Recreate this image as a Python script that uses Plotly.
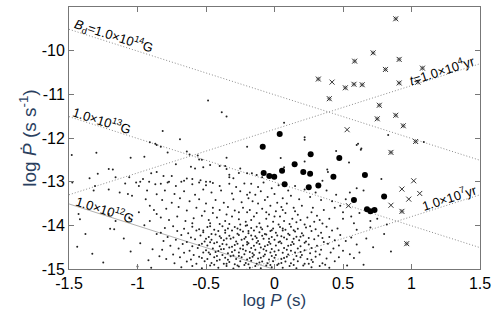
import numpy as np
import plotly.graph_objects as go

# ---- data ----
# magnetic field lines (G) and characteristic age lines (yr)
b_fields = [1e14, 1e13, 1e12]
ages_yr = [1e4, 1e7]

# filled circles
circ_logp = [0.038, -0.086, 0.264, 0.473, 0.147, 0.055, -0.079, -0.038, -0.002, 0.21, 0.26,
             0.074, 0.43, 0.66, 0.25, 0.32, 0.80, 0.58, 0.675, 0.70, 0.73]
circ_logpdot = [-11.91, -12.20, -12.37, -12.46, -12.60, -12.75, -12.80, -12.87, -12.89, -12.78, -12.82,
                -13.06, -12.89, -12.85, -13.13, -13.09, -13.34, -13.42, -13.63, -13.68, -13.65]

# asterisk-like crosses
ast_logp = [0.885, 0.72, 0.585, 0.91, 0.81, 1.08, 0.32, 0.517, 0.58, 0.64, 0.91, 1.047, 0.40,
            0.765, 0.75, 0.885, 0.94, 1.03, 0.85, 0.93, 0.965]
ast_logpdot = [-9.27, -10.05, -10.24, -10.20, -10.43, -10.40, -10.65, -10.85, -10.77, -10.78, -10.74,
               -10.72, -11.10, -11.25, -11.56, -11.48, -11.72, -12.08, -12.33, -13.68, -14.42]

# plain crosses
x_logp = [0.42, 0.53, 1.016, 0.93, 1.06, 0.98, 0.85, 0.54]
x_logpdot = [-10.72, -11.81, -12.98, -13.17, -13.27, -13.40, -13.54, -13.55]

# small dots (radio pulsars), (log P, log Pdot)
dots = [
    (-0.485, -11.14), (-0.385, -11.41), (-0.35, -11.51), (-0.816, -11.84), (-0.69, -12.03), (-0.87, -12.13),
    (-1.30, -12.34), (-0.64, -12.31), (0.07, -11.65), (0.22, -12.04), (0.61, -12.13), (0.634, -12.24),
    (0.83, -11.93), (-0.56, -12.4), (-0.2, -12.2), (-0.35, -12.45), (0.45, -12.3), (-1.05, -12.45),
    (-1.48, -12.39), (-0.95, -12.43), (-1.21, -12.71), (-1.18, -12.72), (-1.29, -12.82), (-1.35, -12.92),
    (-1.16, -12.9), (-1.06, -12.9), (-0.96, -12.94), (-0.98, -13.0), (-0.915, -13.0), (-0.9, -12.81),
    (-0.86, -12.78), (-0.86, -12.16), (-0.91, -12.1),
    (-0.83, -12.2), (-0.78, -12.33), (-0.62, -12.38), (-0.55, -12.49), (-0.53, -12.5), (-0.47, -12.62),
    (-0.4, -12.64), (-0.36, -12.64), (-0.35, -12.71), (-0.25, -12.7), (-0.81, -12.87), (-0.75, -12.87),
    (-0.72, -12.6), (-0.61, -12.66), (-0.58, -12.7), (-0.52, -12.67), (-0.64, -12.93), (-0.6, -12.94),
    (-0.54, -12.97), (-0.5, -13.0), (-0.47, -13.0), (-0.33, -12.84), (-0.33, -12.9), (-0.26, -12.8),
    (-0.2, -12.81), (-0.3, -12.92), (-0.66, -12.98), (-0.77, -13.0),
    (0.045, -12.46), (0.22, -12.54), (0.07, -12.67), (-0.165, -12.81), (-0.13, -12.85), (-0.09, -12.9),
    (0.385, -12.72), (0.39, -12.78), (0.35, -12.98), (0.22, -11.98),
    (0.60, -12.16), (0.63, -12.27), (0.544, -12.56), (0.78, -12.94), (1.09, -12.09),
    (-1.476, -13.02), (-1.32, -13.2), (-1.21, -13.18), (-1.13, -13.25), (-1.07, -13.28), (-1.01, -13.02),
    (-0.99, -13.1), (-0.93, -13.2), (-0.87, -13.06), (-0.86, -13.29), (-0.94, -13.4), (-0.91, -13.55),
    (-0.88, -13.65), (-0.86, -13.74), (-0.99, -13.7), (-1.06, -13.82), (-0.91, -13.9), (-1.43, -13.74),
    (-1.21, -13.74), (-1.16, -13.9), (-1.09, -13.04), (-1.42, -13.86), (-1.31, -13.10), (-1.04, -13.32),
    (-0.83, -13.05), (-0.78, -13.02), (-0.72, -13.1), (-0.68, -13.0), (-0.6, -13.06), (-0.55, -13.02),
    (-0.5, -13.08), (-0.45, -13.03), (-0.4, -13.1), (-0.33, -13.05), (-0.28, -13.12), (-0.22, -13.04),
    (-0.8, -13.2), (-0.73, -13.28), (-0.66, -13.22), (-0.58, -13.3), (-0.52, -13.18), (-0.46, -13.25),
    (-0.39, -13.2), (-0.31, -13.27), (-0.25, -13.22), (-0.2, -13.3),
    (-0.82, -13.42), (-0.75, -13.48), (-0.69, -13.38), (-0.62, -13.45), (-0.55, -13.4), (-0.5, -13.5),
    (-0.43, -13.42), (-0.37, -13.48), (-0.3, -13.4), (-0.24, -13.47), (-0.19, -13.38),
    (-0.79, -13.62), (-0.7, -13.58), (-0.64, -13.66), (-0.57, -13.6), (-0.51, -13.68), (-0.45, -13.6),
    (-0.4, -13.65), (-0.34, -13.58), (-0.29, -13.66), (-0.23, -13.6), (-0.2, -13.7),
    (-0.83, -13.82), (-0.77, -13.88), (-0.71, -13.8), (-0.65, -13.9), (-0.59, -13.84), (-0.53, -13.78),
    (-0.48, -13.88), (-0.42, -13.82), (-0.36, -13.9), (-0.31, -13.8), (-0.26, -13.86), (-0.21, -13.92),
    (-0.47, -13.95), (-0.33, -13.97), (-0.25, -13.98),
    (-0.17, -13.05), (-0.12, -13.12), (-0.08, -13.02), (-0.02, -13.15), (0.03, -13.08), (0.1, -13.2),
    (0.15, -13.1), (0.22, -13.18), (0.3, -13.25), (0.38, -13.2), (0.45, -13.3),
    (-0.18, -13.25), (-0.14, -13.3), (-0.1, -13.22), (-0.05, -13.35), (0.0, -13.28), (0.06, -13.38),
    (0.12, -13.32), (0.18, -13.4), (0.26, -13.35), (0.34, -13.42), (0.42, -13.45),
    (-0.16, -13.45), (-0.12, -13.5), (-0.07, -13.42), (-0.03, -13.55), (0.02, -13.48), (0.05, -13.58),
    (0.09, -13.5), (0.14, -13.6), (0.2, -13.55), (0.28, -13.6), (0.36, -13.65), (0.44, -13.6),
    (-0.18, -13.65), (-0.13, -13.72), (-0.09, -13.62), (-0.04, -13.75), (0.01, -13.68), (0.04, -13.8),
    (0.08, -13.72), (0.13, -13.85), (0.17, -13.76), (0.24, -13.82), (0.31, -13.78), (0.4, -13.85),
    (-0.17, -13.88), (-0.11, -13.95), (-0.06, -13.85), (-0.01, -13.92), (0.03, -13.98), (0.07, -13.9),
    (0.11, -13.97), (0.16, -13.93), (0.22, -13.98), (0.29, -13.92), (0.35, -13.96),
    (0.48, -13.55), (0.5, -13.7), (0.56, -13.8), (0.62, -13.72), (0.58, -13.95), (0.7, -13.9),
    (0.52, -13.4), (0.65, -13.2), (0.75, -13.85), (0.82, -13.98), (0.6, -13.15), (0.5, -13.85), (0.55, -13.25),
    (-1.44, -14.49), (-1.33, -14.65), (-1.2, -14.08), (-1.17, -14.09), (-0.98, -14.41), (-1.0, -14.94),
    (-0.95, -14.0), (-0.89, -14.55), (-0.86, -14.2), (-0.84, -14.71), (-1.1, -14.3), (-1.25, -14.85),
    (-0.92, -14.8), (-1.05, -14.6), (-1.38, -14.2), (-0.9, -14.97),
    (-0.8, -14.06), (-0.74, -14.02), (-0.66, -14.08), (-0.6, -14.03), (-0.55, -14.09), (-0.49, -14.04),
    (-0.44, -14.1), (-0.38, -14.02), (-0.34, -14.07), (-0.29, -14.04), (-0.25, -14.1), (-0.21, -14.01),
    (-0.17, -14.06), (-0.13, -14.03), (-0.09, -14.09), (-0.05, -14.02), (-0.01, -14.07), (0.04, -14.04),
    (0.08, -14.1), (0.12, -14.03), (0.17, -14.08), (0.23, -14.05), (0.3, -14.09), (0.38, -14.03), (0.46, -14.07),
    (-0.83, -14.17), (-0.71, -14.13), (-0.63, -14.18), (-0.57, -14.12), (-0.52, -14.16), (-0.46, -14.2),
    (-0.41, -14.13), (-0.36, -14.17), (-0.31, -14.12), (-0.27, -14.19), (-0.23, -14.14), (-0.19, -14.18),
    (-0.15, -14.12), (-0.11, -14.16), (-0.07, -14.2), (-0.03, -14.13), (0.01, -14.17), (0.06, -14.12),
    (0.1, -14.19), (0.15, -14.14), (0.2, -14.18), (0.27, -14.13), (0.34, -14.17), (0.42, -14.12),
    (-0.78, -14.27), (-0.68, -14.22), (-0.61, -14.28), (-0.54, -14.23), (-0.48, -14.27), (-0.43, -14.21),
    (-0.39, -14.29), (-0.33, -14.24), (-0.3, -14.28), (-0.26, -14.22), (-0.21, -14.27), (-0.17, -14.23),
    (-0.13, -14.29), (-0.09, -14.24), (-0.06, -14.21), (-0.02, -14.27), (0.02, -14.23), (0.07, -14.28),
    (0.11, -14.22), (0.16, -14.26), (0.21, -14.23), (0.25, -14.29), (0.32, -14.24), (0.4, -14.27),
    (0.48, -14.22), (0.56, -14.28),
    (-0.81, -14.36), (-0.72, -14.33), (-0.64, -14.38), (-0.58, -14.32), (-0.51, -14.37), (-0.46, -14.33),
    (-0.42, -14.39), (-0.37, -14.34), (-0.32, -14.31), (-0.28, -14.37), (-0.24, -14.33), (-0.2, -14.38),
    (-0.16, -14.32), (-0.12, -14.36), (-0.08, -14.31), (-0.04, -14.38), (0.0, -14.33), (0.04, -14.37),
    (0.09, -14.32), (0.13, -14.38), (0.18, -14.34), (0.23, -14.37), (0.29, -14.32), (0.36, -14.38),
    (0.44, -14.34), (0.52, -14.36),
    (-0.76, -14.47), (-0.67, -14.43), (-0.6, -14.48), (-0.53, -14.42), (-0.49, -14.46), (-0.44, -14.41),
    (-0.4, -14.48), (-0.35, -14.44), (-0.31, -14.49), (-0.27, -14.42), (-0.23, -14.46), (-0.19, -14.41),
    (-0.15, -14.47), (-0.11, -14.43), (-0.07, -14.48), (-0.03, -14.42), (0.01, -14.46), (0.05, -14.41),
    (0.1, -14.47), (0.14, -14.43), (0.19, -14.48), (0.25, -14.44), (0.31, -14.47), (0.39, -14.42),
    (0.47, -14.46), (0.6, -14.44),
    (-0.82, -14.56), (-0.7, -14.53), (-0.62, -14.58), (-0.56, -14.52), (-0.5, -14.57), (-0.45, -14.53),
    (-0.41, -14.59), (-0.37, -14.54), (-0.33, -14.51), (-0.29, -14.57), (-0.25, -14.53), (-0.21, -14.58),
    (-0.17, -14.52), (-0.14, -14.56), (-0.1, -14.51), (-0.06, -14.58), (-0.02, -14.54), (0.03, -14.57),
    (0.07, -14.52), (0.12, -14.58), (0.17, -14.53), (0.22, -14.57), (0.27, -14.52), (0.34, -14.56),
    (0.43, -14.53), (0.5, -14.58),
    (-0.74, -14.67), (-0.66, -14.63), (-0.59, -14.68), (-0.52, -14.62), (-0.47, -14.66), (-0.43, -14.61),
    (-0.38, -14.68), (-0.34, -14.64), (-0.3, -14.69), (-0.26, -14.62), (-0.22, -14.66), (-0.18, -14.61),
    (-0.15, -14.68), (-0.11, -14.63), (-0.07, -14.67), (-0.03, -14.62), (0.01, -14.68), (0.06, -14.63),
    (0.1, -14.67), (0.15, -14.62), (0.2, -14.68), (0.26, -14.64), (0.33, -14.67), (0.41, -14.62), (0.55, -14.66),
    (-0.79, -14.77), (-0.69, -14.73), (-0.61, -14.78), (-0.55, -14.72), (-0.49, -14.77), (-0.44, -14.73),
    (-0.4, -14.79), (-0.36, -14.74), (-0.32, -14.71), (-0.28, -14.77), (-0.24, -14.73), (-0.2, -14.78),
    (-0.16, -14.72), (-0.12, -14.76), (-0.08, -14.71), (-0.04, -14.78), (0.0, -14.74), (0.05, -14.77),
    (0.09, -14.72), (0.14, -14.78), (0.19, -14.73), (0.24, -14.77), (0.3, -14.72), (0.38, -14.76), (0.47, -14.73),
    (-0.73, -14.87), (-0.64, -14.83), (-0.57, -14.88), (-0.51, -14.82), (-0.46, -14.86), (-0.42, -14.81),
    (-0.37, -14.88), (-0.33, -14.84), (-0.29, -14.89), (-0.25, -14.82), (-0.21, -14.86), (-0.17, -14.81),
    (-0.13, -14.88), (-0.09, -14.83), (-0.05, -14.87), (-0.01, -14.82), (0.03, -14.88), (0.08, -14.83),
    (0.12, -14.87), (0.17, -14.82), (0.22, -14.88), (0.28, -14.84), (0.35, -14.87), (0.44, -14.82),
    (-0.68, -14.96), (-0.6, -14.93), (-0.53, -14.98), (-0.47, -14.92), (-0.41, -14.97), (-0.35, -14.93),
    (-0.3, -14.99), (-0.26, -14.94), (-0.22, -14.91), (-0.18, -14.97), (-0.14, -14.93), (-0.1, -14.98),
    (-0.06, -14.92), (-0.02, -14.96), (0.02, -14.91), (0.06, -14.97), (0.11, -14.93), (0.16, -14.98),
    (0.21, -14.92), (0.27, -14.96), (0.33, -14.93), (0.4, -14.97),
    (0.6, -14.1), (0.67, -14.3), (0.72, -14.5), (0.58, -14.75), (0.65, -14.9), (0.8, -14.2),
    (0.85, -14.6), (0.7, -14.05), (0.53, -14.92), (0.62, -14.62),
    (-0.52, -14.12), (-0.47, -14.02), (-0.36, -14.11), (-0.27, -14.07), (-0.19, -14.13), (-0.1, -14.05),
    (-0.02, -14.11), (0.06, -14.07), (0.14, -14.11), (0.26, -14.02),
    (-0.5, -14.31), (-0.4, -14.25), (-0.35, -14.3), (-0.22, -14.31), (-0.14, -14.25), (-0.04, -14.31),
    (0.05, -14.25), (0.14, -14.31), (0.19, -14.26), (0.35, -14.29),
    (-0.55, -14.45), (-0.47, -14.39), (-0.38, -14.43), (-0.29, -14.45), (-0.2, -14.44), (-0.13, -14.4),
    (-0.05, -14.45), (0.03, -14.39), (0.12, -14.45), (0.22, -14.4),
    (-0.48, -14.62), (-0.39, -14.55), (-0.31, -14.61), (-0.23, -14.55), (-0.16, -14.64), (-0.08, -14.55),
    (0.0, -14.6), (0.09, -14.56), (0.19, -14.61), (0.3, -14.6),
    (-0.53, -14.75), (-0.42, -14.7), (-0.34, -14.79), (-0.26, -14.7), (-0.18, -14.75), (-0.1, -14.74),
    (-0.02, -14.7), (0.07, -14.75), (0.16, -14.7), (0.27, -14.79),
    (-0.44, -14.9), (-0.35, -14.88), (-0.27, -14.92), (-0.19, -14.89), (-0.11, -14.85), (-0.03, -14.91),
    (0.05, -14.86), (0.14, -14.91), (0.25, -14.88), (0.37, -14.9),
    (-0.45, -13.72), (-0.35, -13.75), (-0.26, -13.7), (-0.15, -13.8), (-0.06, -13.7), (0.06, -13.65),
    (0.15, -13.68), (0.27, -13.7), (-0.6, -13.95), (-0.4, -13.97), (-0.2, -14.0), (0.0, -13.8),
    (0.19, -13.88), (0.33, -13.88),
]
dot_logp = [d[0] for d in dots]
dot_logpdot = [d[1] for d in dots]

x_ticks = [-1.5, -1, -0.5, 0, 0.5, 1, 1.5]
x_ticktext = ["-1.5", "-1", "-0.5", "0", "0.5", "1", "1.5"]
y_ticks = [-15, -14, -13, -12, -11, -10, -9]
y_ticktext = ["-15", "-14", "-13", "-12", "-11", "-10", "-9"]

FONT = "Liberation Sans, Arial, sans-serif"

# ---- figure ----
fig = go.Figure()
xr = np.array([-1.5, 1.5])
line_styles = [dict(color="#8c8c8c", width=1, dash="1px,2px"),
               dict(color="#8c8c8c", width=1, dash="1px,2px"),
               dict(color="#b0b0b0", width=1)]
for b, st in zip(b_fields, line_styles):
    yv = 2 * np.log10(b / 3.2e19) - xr
    fig.add_trace(go.Scatter(x=xr, y=yv, mode="lines", line=st, hoverinfo="skip"))
for a in ages_yr:
    yv = xr - np.log10(2 * a * 3.156e7)
    fig.add_trace(go.Scatter(x=xr, y=yv, mode="lines",
                             line=dict(color="#8c8c8c", width=1, dash="1px,2px"), hoverinfo="skip"))

fig.add_trace(go.Scatter(x=dot_logp, y=dot_logpdot, mode="markers",
                         marker=dict(size=2, color="#222", line=dict(width=0))))
fig.add_trace(go.Scatter(x=circ_logp, y=circ_logpdot, mode="markers",
                         marker=dict(size=6, color="black", line=dict(width=0))))
fig.add_trace(go.Scatter(x=ast_logp, y=ast_logpdot, mode="markers",
                         marker=dict(symbol="asterisk-open", size=4, color="#999",
                                     line=dict(width=1, color="#999"))))
fig.add_trace(go.Scatter(x=ast_logp, y=ast_logpdot, mode="markers",
                         marker=dict(symbol="x-thin-open", size=5, color="#333",
                                     line=dict(width=1, color="#333"))))
fig.add_trace(go.Scatter(x=x_logp, y=x_logpdot, mode="markers",
                         marker=dict(symbol="x-thin-open", size=5, color="#333",
                                     line=dict(width=1, color="#333"))))

ang = 17.7
lab_font = dict(family=FONT, size=13, color="black")
labels = [
    (-1.17, -9.66, "<i>B</i><sub>d</sub>=1.0×10<sup>14</sup>G", ang),
    (-1.26, -11.58, "1.0×10<sup>13</sup>G", ang),
    (-1.24, -13.62, "1.0×10<sup>12</sup>G", ang),
    (1.22, -10.44, "<i>t</i>=1.0×10<sup>4</sup>yr", -ang),
    (1.28, -13.36, "1.0×10<sup>7</sup>yr", -ang),
]
for lx, ly, txt, a in labels:
    fig.add_annotation(x=lx, y=ly, text=txt, textangle=a, showarrow=False, font=lab_font)

axis_common = dict(showgrid=False, zeroline=False, showline=True, linecolor="#777", linewidth=1,
                   mirror="ticks", ticks="inside", ticklen=5, tickcolor="#777", automargin=False,
                   tickfont=dict(family=FONT, size=16, color="black"))
fig.update_xaxes(range=[-1.5, 1.5], tickvals=x_ticks, ticktext=x_ticktext,
                 title=dict(text="log <i>P</i> (s)", standoff=0,
                            font=dict(family=FONT, size=17)),
                 **axis_common)
fig.update_yaxes(range=[-15, -9], tickvals=y_ticks, ticktext=y_ticktext,
                 title=dict(text="log <i>Ṗ</i> (s s<sup>-1</sup>)", standoff=0,
                            font=dict(family=FONT, size=19)),
                 **axis_common)
fig.update_layout(width=498, height=310, showlegend=False,
                  margin=dict(l=69, r=18, t=7, b=41),
                  plot_bgcolor="white", paper_bgcolor="white")
fig.write_html("out.html", config={"displayModeBar": False},
               post_script="document.body.style.margin='0';document.body.style.overflow='hidden';")
